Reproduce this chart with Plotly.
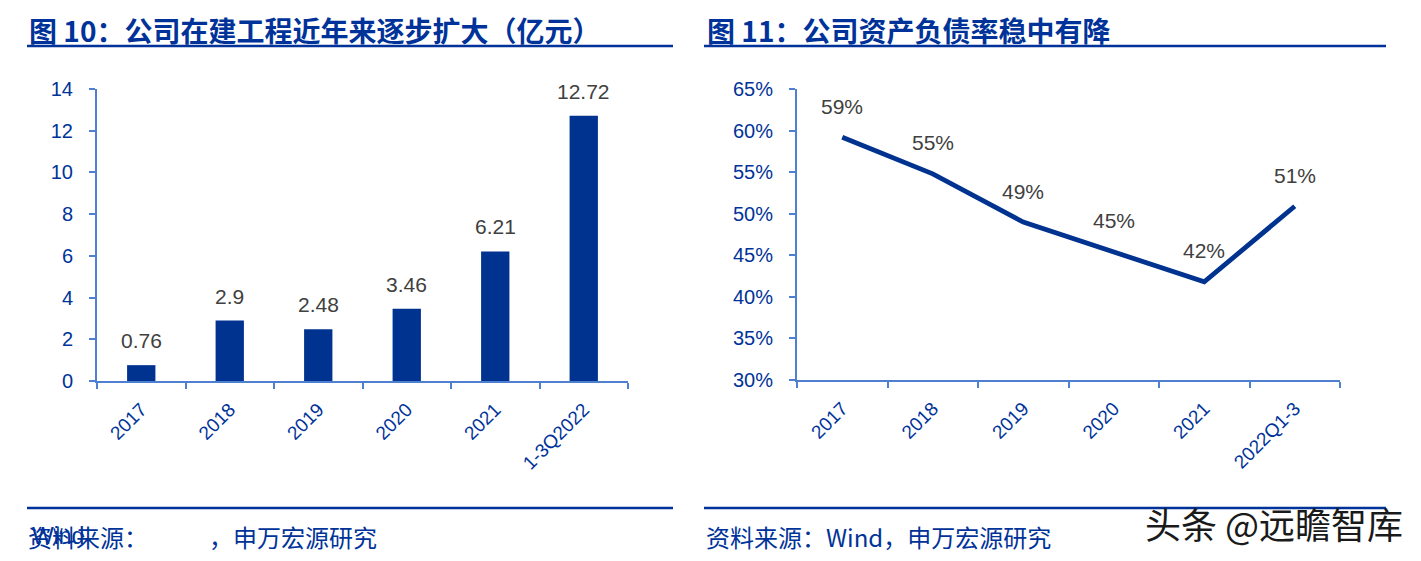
import plotly.graph_objects as go

# page body has an 8px margin; figure is sized so the reference pixel grid lines up
OFF = 8
W, H = 1421 - 2 * OFF, 561 - 2 * OFF

# ---- data ----
bar_categories = ["2017", "2018", "2019", "2020", "2021", "1-3Q2022"]
bar_values = [0.76, 2.9, 2.48, 3.46, 6.21, 12.72]

line_categories = ["2017", "2018", "2019", "2020", "2021", "2022Q1-3"]
line_values = [59.2, 54.8, 49.0, 45.4, 41.8, 50.9]

left_title = "图 10：公司在建工程近年来逐步扩大（亿元）"
right_title = "图 11：公司资产负债率稳中有降"
right_source = "资料来源：Wind，申万宏源研究"
watermark = "头条 @远瞻智库"

# ---- style ----
DARK = "#003399"
BAR = "#00338F"
AXIS = "#4F7FD0"
LABEL = "#404040"
FONT = "Liberation Sans, Arial, Noto Sans CJK SC"
CJK = "Noto Sans CJK SC, Liberation Sans"

def px(x):
    return (x - OFF) / W

def py(y):
    return 1 - (y - OFF) / H

fig = go.Figure()

fig.add_trace(go.Bar(
    x=bar_categories, y=bar_values, marker_color=BAR, marker_line_width=0,
    xaxis="x", yaxis="y", showlegend=False, hoverinfo="skip"))

fig.add_trace(go.Scatter(
    x=line_categories, y=line_values, mode="lines",
    line=dict(color=BAR, width=4.8), xaxis="x2", yaxis="y2",
    showlegend=False, hoverinfo="skip"))

annotations = []
for i, v in enumerate(bar_values):
    annotations.append(dict(x=i, y=v, xref="x", yref="y", text=str(v),
                            showarrow=False, yanchor="bottom", yshift=11,
                            font=dict(family=FONT, size=21, color=LABEL)))
for i, v in enumerate(line_values):
    annotations.append(dict(x=i, y=v, xref="x2", yref="y2", text=f"{round(v):d}%",
                            showarrow=False, yanchor="middle", yshift=31,
                            font=dict(family=FONT, size=21, color=LABEL)))

# titles
annotations.append(dict(x=px(27), y=py(30), xref="paper", yref="paper", text=f"<b>{left_title}</b>",
                        showarrow=False, xanchor="left", yanchor="middle",
                        font=dict(family=CJK, size=28, color=DARK)))
annotations.append(dict(x=px(705), y=py(30), xref="paper", yref="paper", text=f"<b>{right_title}</b>",
                        showarrow=False, xanchor="left", yanchor="middle",
                        font=dict(family=CJK, size=28, color=DARK)))
# footers
annotations.append(dict(x=px(26), y=py(536), xref="paper", yref="paper", text="资料来源：",
                        showarrow=False, xanchor="left", yanchor="middle",
                        font=dict(family=CJK, size=24, color=DARK)))
annotations.append(dict(x=px(30), y=py(536), xref="paper", yref="paper", text="Wind",
                        showarrow=False, xanchor="left", yanchor="middle",
                        font=dict(family=FONT, size=23, color=DARK)))
annotations.append(dict(x=px(207), y=py(536), xref="paper", yref="paper", text="，申万宏源研究",
                        showarrow=False, xanchor="left", yanchor="middle",
                        font=dict(family=CJK, size=24, color=DARK)))
annotations.append(dict(x=px(704), y=py(536), xref="paper", yref="paper", text=right_source,
                        showarrow=False, xanchor="left", yanchor="middle",
                        font=dict(family=CJK, size=24, color=DARK)))
annotations.append(dict(x=px(1143), y=py(523), xref="paper", yref="paper", text=watermark,
                        showarrow=False, xanchor="left", yanchor="middle",
                        font=dict(family=CJK, size=36, color="#1a1a1a")))

shapes = []
for x0, x1 in [(27, 673), (704, 1386)]:
    for yy in [46, 508]:
        shapes.append(dict(type="line", xref="paper", yref="paper",
                           x0=px(x0), x1=px(x1), y0=py(yy), y1=py(yy),
                           line=dict(color=DARK, width=2.5)))

tickfont = dict(family=FONT, size=20, color=DARK)
xtickfont = dict(family=FONT, size=19, color=DARK)

common_x = dict(type="category", showline=True, linecolor=AXIS, linewidth=2,
                ticks="outside", tickson="boundaries", ticklen=6, tickcolor=AXIS, tickwidth=2,
                tickangle=-45, tickfont=xtickfont, showgrid=False, zeroline=False,
                ticklabelstandoff=8, fixedrange=True, automargin=False,
                range=[-0.5, 5.5], autorange=False)
common_y = dict(showline=True, linecolor=AXIS, linewidth=2, ticks="outside",
                ticklen=6, tickcolor=AXIS, tickwidth=2, tickfont=tickfont,
                showgrid=False, zeroline=False, fixedrange=True, ticklabelstandoff=12,
                automargin=False, autorange=False)

fig.update_layout(
    template="none",
    width=W, height=H, margin=dict(l=0, r=0, t=0, b=0, pad=0),
    paper_bgcolor="white", plot_bgcolor="white",
    bargap=0.68, showlegend=False,
    xaxis=dict(common_x, domain=[px(97), px(628)], anchor="y",
               categoryorder="array", categoryarray=bar_categories),
    yaxis=dict(common_y, domain=[py(381), py(89)], range=[0, 14], dtick=2, anchor="x"),
    xaxis2=dict(common_x, domain=[px(797), px(1340)], anchor="y2",
                categoryorder="array", categoryarray=line_categories),
    yaxis2=dict(common_y, domain=[py(380), py(89)], range=[30, 65], dtick=5,
                ticksuffix="%", anchor="x2"),
    annotations=annotations, shapes=shapes,
)

fig.write_html("out.html")
